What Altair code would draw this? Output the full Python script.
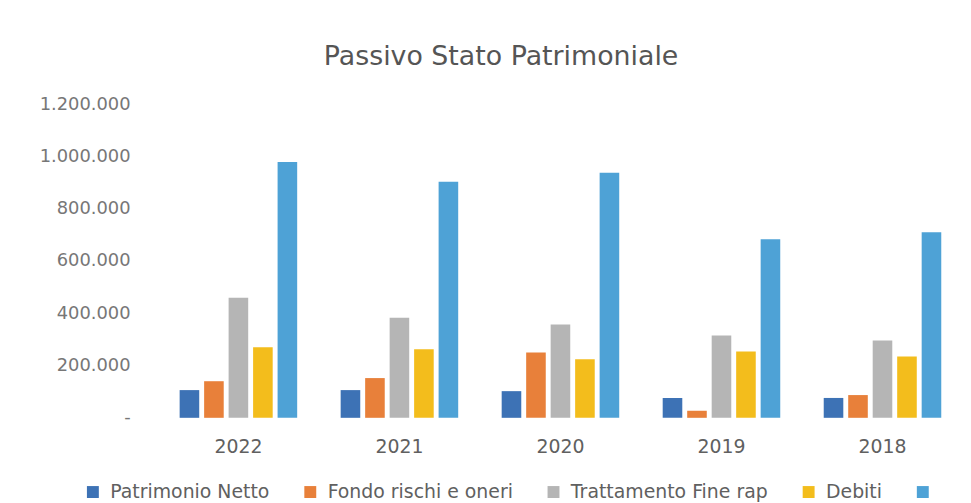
import altair as alt
import pandas as pd

years = ["2022", "2021", "2020", "2019", "2018"]
series = ["Patrimonio Netto", "Fondo rischi e oneri", "Trattamento Fine rap", "Debiti", " "]
patrimonio = [106000, 106000, 102000, 76000, 76000]
fondo = [140000, 152000, 250000, 27000, 87000]
tfr = [459000, 383000, 357000, 315000, 296000]
debiti = [270000, 262000, 224000, 254000, 235000]
totale = [979000, 903000, 937000, 683000, 710000]
colors = ["#3d72b5", "#e8803a", "#b5b5b5", "#f3bd1c", "#4ea2d6"]

rows = []
for vals, s in zip([patrimonio, fondo, tfr, debiti, totale], series):
    for y, v in zip(years, vals):
        rows.append({"Anno": y, "Serie": s, "Valore": v})
df = pd.DataFrame(rows)

font = "DejaVu Sans"
label_expr = "datum.value == 0 ? '-' : replace(replace(format(datum.value, ','), ',', '.'), ',', '.')"

chart = alt.Chart(df).mark_bar().encode(
    x=alt.X("Anno:N", sort=years, title=None,
            scale=alt.Scale(paddingInner=0.27, paddingOuter=0.135),
            axis=alt.Axis(labelAngle=0, domain=False, ticks=False, labelPadding=20,
                          labelFontSize=19, labelColor="#606060", labelFont=font)),
    xOffset=alt.XOffset("Serie:N", sort=series, scale=alt.Scale(paddingInner=0.2)),
    y=alt.Y("Valore:Q", title=None,
            scale=alt.Scale(domain=[0, 1200000]),
            axis=alt.Axis(values=[0, 200000, 400000, 600000, 800000, 1000000, 1200000],
                          labelExpr=label_expr, domain=False, ticks=False, grid=False,
                          labelPadding=28, labelFontSize=18, labelColor="#777777", labelFont=font)),
    color=alt.Color("Serie:N", sort=series, scale=alt.Scale(domain=series, range=colors),
                    legend=alt.Legend(title=None, orient="none", legendX=-75, legendY=381,
                                      direction="horizontal", columns=5,
                                      symbolType="square", symbolSize=144, labelOffset=8,
                                      labelFontSize=19, labelColor="#606060", labelFont=font,
                                      labelLimit=300, columnPadding=31,
                                      symbolStrokeWidth=0)),
).properties(
    width=811, height=316,
    padding={"top": 34, "left": 31, "right": 0, "bottom": 0},
    title=alt.TitleParams("Passivo Stato Patrimoniale", fontSize=27, font=font,
                          fontWeight="normal", color="#555555", offset=24,
                          frame="bounds", anchor="middle"),
).configure_view(stroke=None)

chart.save("out.html", embed_options={"renderer": "svg", "actions": False})
